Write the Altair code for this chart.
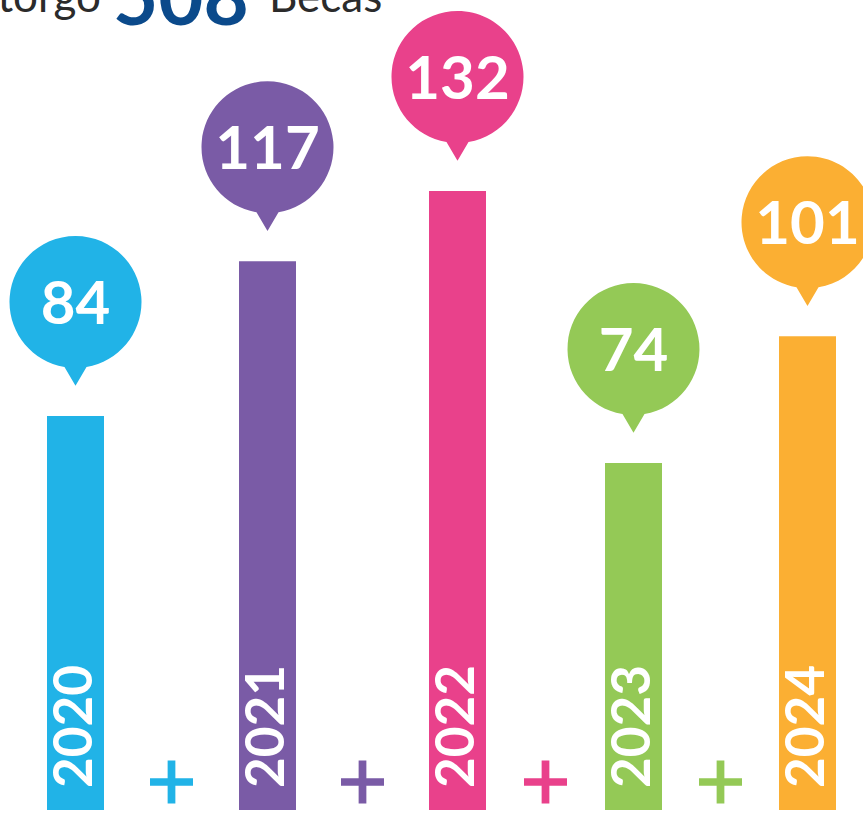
import altair as alt
import pandas as pd

years = [2020, 2021, 2022, 2023, 2024]
becas = [84, 117, 132, 74, 101]
colors = ["#21b3e7", "#7a5ba6", "#e9418b", "#94c956", "#fbaf33"]
total_label = "508"

df = pd.DataFrame({"year": years, "value": becas})
df["year_str"] = df["year"].astype(str)
df["label"] = df["value"].astype(str)

plus_df = pd.DataFrame({"year_str": [str(y) for y in years[:-1]],
                        "xpos": [y + 0.5 for y in years[:-1]],
                        "zero": [0] * (len(years) - 1)})

FONT = "Lato"
# piecewise x scale (layout styling only)
xscale = alt.Scale(domain=years, range=[75.5, 267.5, 457.5, 633.5, 807.5],
                   nice=False, zero=False, padding=0)
yscale = alt.Scale(domain=[0, 172.7], nice=False, zero=True)
cscale = alt.Scale(domain=[str(y) for y in years], range=colors)

X = alt.X("year:Q", scale=xscale, axis=None)
Y = alt.Y("value:Q", scale=yscale, axis=None)
C = alt.Color("year_str:N", scale=cscale, legend=None)

bars = alt.Chart(df).mark_bar(width=57, cornerRadius=0).encode(x=X, y=Y, color=C)

bubble_path = "M-0.167,0.986 A1,1 0 1 1 0.167,0.986 L0,1.27 Z"
bubbles = alt.Chart(df).mark_point(
    shape=bubble_path, filled=True, size=17424, opacity=1, strokeWidth=0, yOffset=-114
).encode(x=X, y=Y, color=C)

bubble_text = alt.Chart(df).mark_text(
    font=FONT, fontWeight="bold", fontSize=60, color="white",
    align="center", baseline="middle", yOffset=-110
).encode(x=X, y=Y, text="label:N")

year_text = alt.Chart(df).mark_text(
    font=FONT, fontWeight="bold", fontSize=53, color="white",
    align="left", baseline="middle", angle=270, yOffset=-22
).encode(x=X, y=alt.Y("zero:Q", scale=yscale, axis=None), text="year_str:N").transform_calculate(zero="0")

plus_path = "M-1,-0.18 H-0.18 V-1 H0.18 V-0.18 H1 V0.18 H0.18 V1 H-0.18 V0.18 H-1 Z"
pluses = alt.Chart(plus_df).mark_point(
    shape=plus_path, filled=True, size=1849, opacity=1, strokeWidth=0, yOffset=-28
).encode(x=alt.X("xpos:Q", scale=xscale, axis=None),
         y=alt.Y("zero:Q", scale=yscale, axis=None),
         color=alt.Color("year_str:N", scale=cscale, legend=None))

title_df = pd.DataFrame({"t": [0]})
t1 = alt.Chart(title_df).mark_text(
    text="Otorgó", font=FONT, fontSize=44, color="#2b2b2b", align="right", baseline="alphabetic"
).encode(x=alt.value(101), y=alt.value(12))
t2 = alt.Chart(title_df).mark_text(
    text=total_label, font=FONT, fontWeight="bold", fontSize=78, color="#0b4a8b",
    align="left", baseline="alphabetic"
).encode(x=alt.value(113), y=alt.value(25))
t3 = alt.Chart(title_df).mark_text(
    text="Becas", font=FONT, fontSize=44, color="#2b2b2b", align="left", baseline="alphabetic"
).encode(x=alt.value(269), y=alt.value(12))

chart = alt.layer(bars, bubbles, bubble_text, year_text, pluses, t1, t2, t3).properties(
    width=863, height=810,
    autosize=alt.AutoSizeParams(type="none"),
    padding={"left": 0, "top": 0, "right": 0, "bottom": 22},
    background="white",
).configure_view(stroke=None)

chart.save("out.html", embed_options={"renderer": "svg", "actions": False})
